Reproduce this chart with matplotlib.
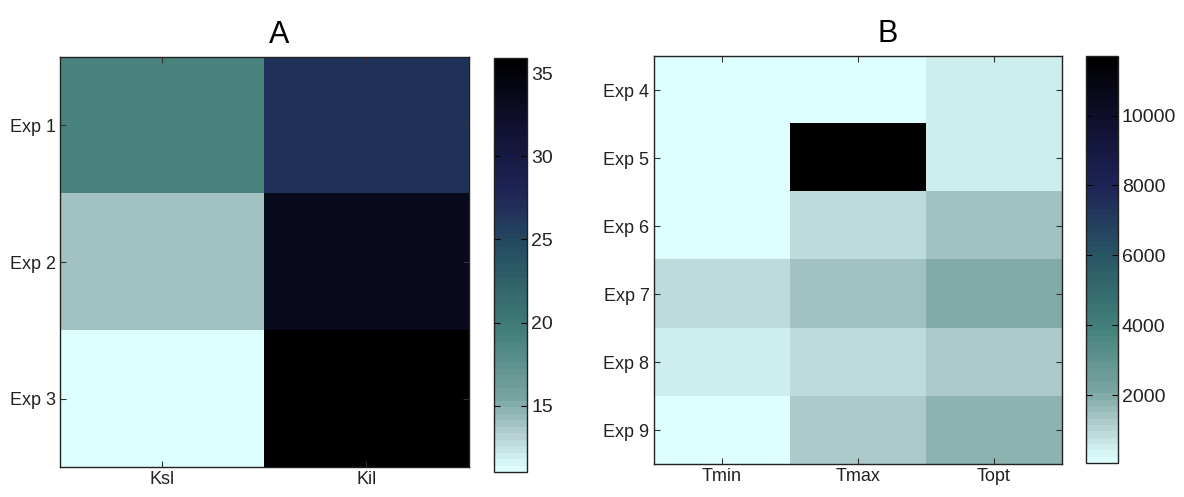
import matplotlib
matplotlib.use("Agg")
import matplotlib.pyplot as plt
import numpy as np
from matplotlib.colors import LinearSegmentedColormap

plt.rcParams['font.family'] = ['Liberation Sans', 'DejaVu Sans']

# panel A
rows_a = ["Exp 1", "Exp 2", "Exp 3"]
cols_a = ["Ksl", "Kil"]
ksl = [18.8, 14.0, 11.0]
kil = [26.8, 33.5, 35.9]

# panel B
rows_b = ["Exp 4", "Exp 5", "Exp 6", "Exp 7", "Exp 8", "Exp 9"]
cols_b = ["Tmin", "Tmax", "Topt"]
tmin = [60, 60, 60, 800, 520, 90]
tmax = [60, 11700, 950, 1450, 950, 1200]
topt = [520, 520, 1380, 1900, 1200, 1750]

a_ticks = [15, 20, 25, 30, 35]
b_ticks = [2000, 4000, 6000, 8000, 10000]

# reversed bone-like map, lifted to cyan at the light end
stops = [
    (0.00, (222, 255, 255)),
    (0.08, (182, 210, 210)),
    (0.17, (122, 166, 162)),
    (0.34, (66, 126, 121)),
    (0.51, (40, 86, 100)),
    (0.68, (30, 36, 86)),
    (0.85, (15, 15, 45)),
    (1.00, (0, 0, 0)),
]
cmap = LinearSegmentedColormap.from_list(
    "bone_cyan", [(p, tuple(c / 255 for c in rgb)) for p, rgb in stops], N=64)

fig = plt.figure(figsize=(11.84, 4.97), dpi=100)


def panel(rect, cbrect, data, rows, cols, title, title_x, vmin, vmax, cticks):
    ax = fig.add_axes(rect)
    im = ax.imshow(data, cmap=cmap, vmin=vmin, vmax=vmax,
                   aspect="auto", interpolation="nearest")
    ax.set_xticks(range(len(cols)))
    ax.set_xticklabels(cols, fontsize=13)
    ax.set_yticks(range(len(rows)))
    ax.set_yticklabels(rows, fontsize=13)
    ax.tick_params(direction="in", top=True, right=True, length=4,
                   width=0.8, color="#333333", labelcolor="#222222", pad=3)
    for s in ax.spines.values():
        s.set_linewidth(1.0)
        s.set_color("#222222")
    ax.set_title(title, fontsize=22, pad=10, x=title_x)
    cax = fig.add_axes(cbrect)
    cb = fig.colorbar(im, cax=cax, ticks=cticks)
    cb.ax.tick_params(direction="in", left=True, right=True, length=4,
                      width=0.8, labelsize=14, labelcolor="#222222", pad=3)
    cb.outline.set_linewidth(1.0)
    cb.outline.set_edgecolor("#222222")
    return ax


data_a = np.column_stack([ksl, kil])
data_b = np.column_stack([tmin, tmax, topt])

panel([0.0507, 0.060, 0.345, 0.825], [0.417, 0.050, 0.028, 0.833],
      data_a, rows_a, cols_a, "A", 0.537, 11.0, 35.9, a_ticks)
panel([0.552, 0.066, 0.345, 0.821], [0.917, 0.068, 0.027, 0.819],
      data_b, rows_b, cols_b, "B", 0.574, 50, 11700, b_ticks)

fig.savefig("out.png", dpi=100)
